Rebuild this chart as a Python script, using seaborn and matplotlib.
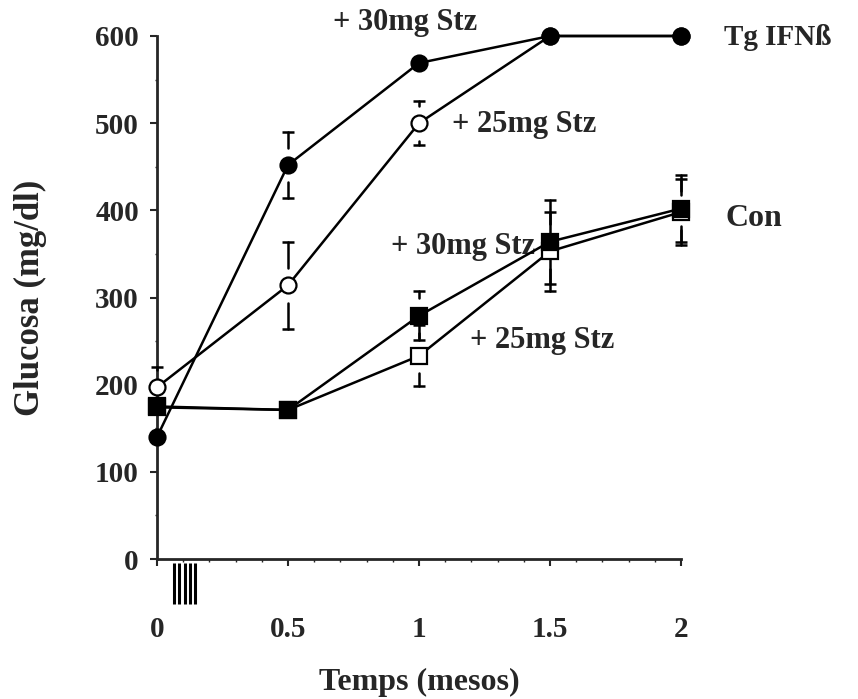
import matplotlib
matplotlib.use("Agg")
import matplotlib.pyplot as plt
import matplotlib.transforms as mtransforms
from matplotlib.ticker import MultipleLocator
import pandas as pd
import seaborn as sns

# Time after treatment (months)
months = [0, 0.5, 1, 1.5, 2]

# Blood glucose (mg/dl) and SEM per group
tg_30 = [140, 452, 569, 600, 600]
tg_30_se = [0, 38, 0, 0, 0]
tg_25 = [197, 314, 500, 600, 600]
tg_25_se = [23, 50, 25, 0, 0]
con_30 = [174, 171, 279, 364, 402]
con_30_se = [0, 0, 28, 48, 38]
con_25 = [175, 171, 233, 353, 398]
con_25_se = [0, 0, 35, 45, 38]

# Streptozotocin injections (months)
injection_days = [0.065, 0.085, 0.105, 0.125, 0.145]

x_ticks = [0, 0.5, 1, 1.5, 2]
x_tick_labels = ["0", "0.5", "1", "1.5", "2"]
y_ticks = [0, 100, 200, 300, 400, 500, 600]

sns.set_theme(style="ticks")
plt.rcParams["font.family"] = ["Liberation Serif", "DejaVu Serif"]
plt.rcParams["font.weight"] = "bold"
plt.rcParams["axes.labelweight"] = "bold"

fig = plt.figure(figsize=(8.58, 6.99), dpi=100)
ax = fig.add_axes([157 / 858, (699 - 559) / 699, (681 - 157) / 858, (559 - 36) / 699])

# open symbols first so the filled ones sit on top where they overlap
series = [
    ("con25", con_25, con_25_se, "s", "white"),
    ("con30", con_30, con_30_se, "s", "black"),
    ("tg25", tg_25, tg_25_se, "o", "white"),
    ("tg30", tg_30, tg_30_se, "o", "black"),
]

gap = 20  # blank space between marker and error whisker
cap_half = 0.022
for i, (name, vals, se, mk, face) in enumerate(series):
    df = pd.DataFrame({"t": months, "g": vals})
    sns.lineplot(data=df, x="t", y="g", ax=ax, color="black", lw=1.8,
                 marker=mk, markersize=11.5, markerfacecolor=face,
                 markeredgecolor="black", markeredgewidth=1.6,
                 clip_on=False, zorder=4 + i)
    for t, v, e in zip(months, vals, se):
        if e <= 0:
            continue
        for sgn in (1, -1):
            end = v + sgn * e
            if e > gap:
                ax.plot([t, t], [v + sgn * gap, end], color="black", lw=1.8,
                        zorder=3, clip_on=False)
            ax.plot([t - cap_half, t + cap_half], [end, end], color="black",
                    lw=1.8, zorder=3, clip_on=False, solid_capstyle="butt")

# injection marks under the time axis
trans = mtransforms.blended_transform_factory(ax.transData, ax.transAxes)
ax.vlines(injection_days, -0.086, -0.008, transform=trans, color="black",
          lw=2.2, clip_on=False)

ax.set_xlim(0, 2)
ax.set_ylim(0, 600)
ax.set_xticks(x_ticks)
ax.set_xticklabels(x_tick_labels)
ax.set_yticks(y_ticks)
ax.xaxis.set_minor_locator(MultipleLocator(0.1))
ax.yaxis.set_minor_locator(MultipleLocator(50))
sns.despine(ax=ax)
for s in ("left", "bottom"):
    ax.spines[s].set_linewidth(2)
ax.tick_params(axis="x", which="major", length=5, width=1.5, pad=36,
               labelsize=21, direction="out")
ax.tick_params(axis="x", which="minor", length=2.5, width=1, direction="out")
ax.tick_params(axis="y", which="major", length=5, width=1.5, pad=8,
               labelsize=21, direction="out")
ax.tick_params(axis="y", which="minor", length=1.5, width=1, direction="out")
for lab in ax.get_xticklabels() + ax.get_yticklabels():
    lab.set_fontweight("bold")

ax.set_xlabel("Temps (mesos)", fontsize=23, fontweight="bold")
ax.xaxis.set_label_coords(0.5, -0.209)
ax.set_ylabel("Glucosa (mg/dl)", fontsize=25, fontweight="bold")
ax.yaxis.label.set_va("center")
ax.yaxis.set_label_coords(-0.242, 0.5)

ann = dict(ha="center", va="center", fontweight="bold", clip_on=False)
ax.text(0.947, 616, "+ 30mg Stz", fontsize=22, **ann)
ax.text(1.40, 498, "+ 25mg Stz", fontsize=22, **ann)
ax.text(1.168, 358, "+ 30mg Stz", fontsize=22, **ann)
ax.text(1.47, 251, "+ 25mg Stz", fontsize=22, **ann)
ax.text(2.37, 598, "Tg IFNß", fontsize=21, **ann)
ax.text(2.28, 391, "Con", fontsize=23, **ann)

fig.savefig("out.png", dpi=100)
